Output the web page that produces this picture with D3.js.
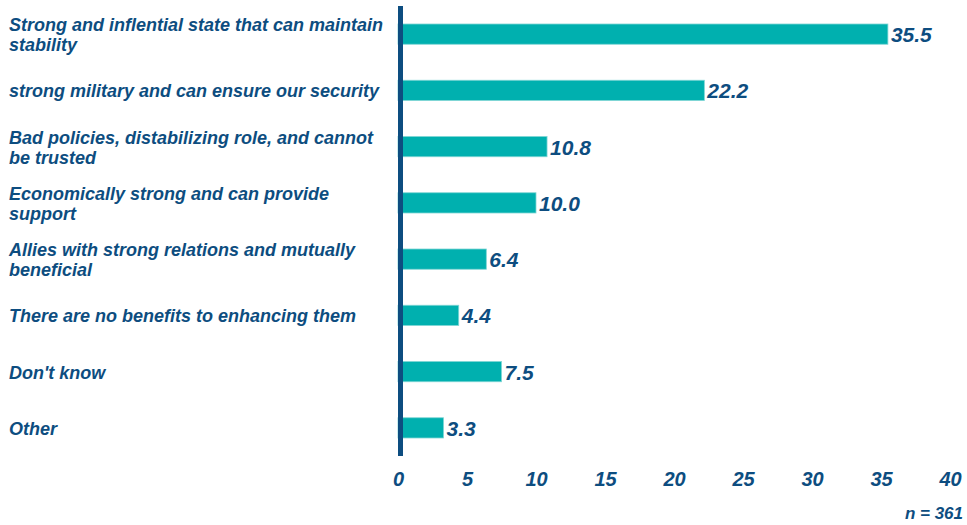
<!DOCTYPE html>
<html>
<head>
<meta charset="utf-8">
<script src="https://cdn.jsdelivr.net/npm/d3@7"></script>
<style>
  html, body { margin: 0; padding: 0; background: #fff; }
  svg { display: block; font-family: "Liberation Sans", Arial, sans-serif; }
</style>
</head>
<body>
<svg id="chart" width="967" height="525"></svg>
<script>
const categories = [
  "Strong and inflential state that can maintain\nstability",
  "strong military and can ensure our security",
  "Bad policies, distabilizing role, and cannot\nbe trusted",
  "Economically strong and can provide\nsupport",
  "Allies with strong relations and mutually\nbeneficial",
  "There are no benefits to enhancing them",
  "Don't know",
  "Other"
];
const values = [35.5, 22.2, 10.8, 10.0, 6.4, 4.4, 7.5, 3.3];
const tickValues = [0, 5, 10, 15, 20, 25, 30, 35, 40];
const sampleNote = "n = 361";

const textColor = "#0D4D80";
const barColor = "#00B0AF";

const svg = d3.select("#chart");

const x = d3.scaleLinear().domain([0, 40]).range([398, 950]);
const y = d3.scaleBand().domain(categories).range([6, 456]).padding(0);
const barH = y.bandwidth() * 0.36;

// bars
svg.append("g").selectAll("rect")
  .data(values)
  .join("rect")
  .attr("x", x(0))
  .attr("y", (d, i) => y(categories[i]) + y.bandwidth() / 2 - barH / 2)
  .attr("width", d => x(d) - x(0))
  .attr("height", barH)
  .attr("fill", barColor)
  .attr("stroke", "#7FD6D5")
  .attr("stroke-width", 0.8);

// axis line
svg.append("line")
  .attr("x1", x(0) + 2.5).attr("x2", x(0) + 2.5)
  .attr("y1", 6).attr("y2", 456)
  .attr("stroke", textColor)
  .attr("stroke-width", 5);

// value labels
svg.append("g").selectAll("text")
  .data(values)
  .join("text")
  .attr("x", d => x(d) + 3)
  .attr("y", (d, i) => y(categories[i]) + y.bandwidth() / 2 + 8)
  .attr("fill", textColor)
  .attr("font-size", 21)
  .attr("font-weight", "bold")
  .attr("font-style", "italic")
  .text(d => d.toFixed(1));

// category labels
const catG = svg.append("g");
categories.forEach(c => {
  const lines = c.split("\n");
  const cy = y(c) + y.bandwidth() / 2;
  const lh = 20;
  const t = catG.append("text")
    .attr("fill", textColor)
    .attr("font-size", 18)
    .attr("font-weight", "bold")
    .attr("font-style", "italic");
  lines.forEach((ln, k) => {
    t.append("tspan")
      .attr("x", 9)
      .attr("y", cy + 7 + (k - (lines.length - 1) / 2) * lh)
      .text(ln);
  });
});

// x axis tick labels
const axis = d3.axisBottom(x).tickValues(tickValues).tickSize(0).tickFormat(d3.format("d"));
const axG = svg.append("g").attr("transform", "translate(0,469)").call(axis);
axG.select(".domain").remove();
axG.selectAll("text")
  .attr("fill", textColor)
  .attr("font-size", 20)
  .attr("font-weight", "bold")
  .attr("font-style", "italic")
  .attr("font-family", "Liberation Sans, Arial, sans-serif");

// sample size note
svg.append("text")
  .attr("x", 963)
  .attr("y", 519)
  .attr("text-anchor", "end")
  .attr("fill", textColor)
  .attr("font-size", 17)
  .attr("font-weight", "bold")
  .attr("font-style", "italic")
  .text(sampleNote);
</script>
</body>
</html>
